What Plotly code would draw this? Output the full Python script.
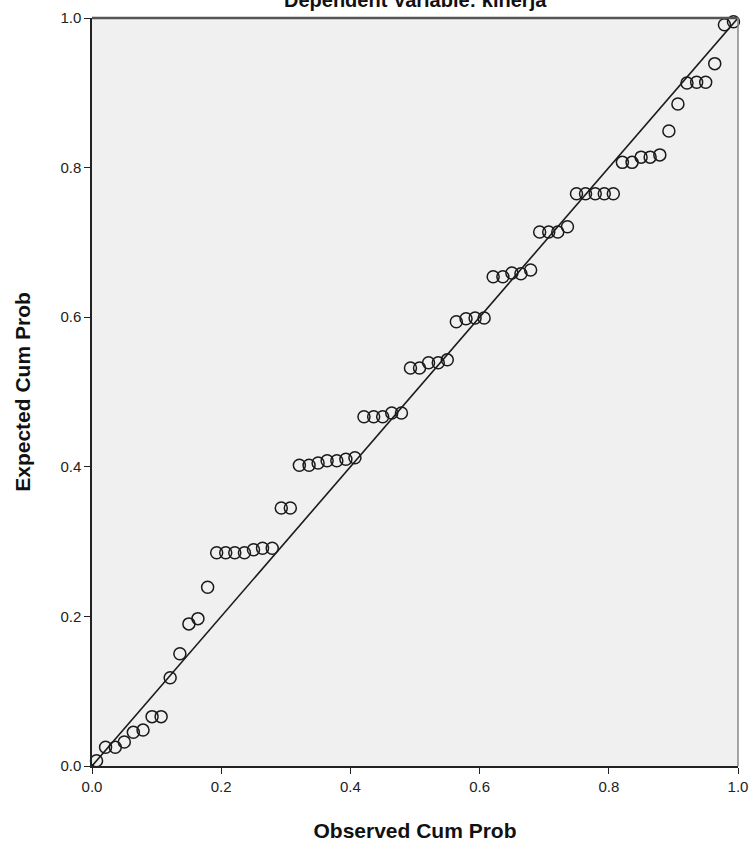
import plotly.graph_objects as go

title_text = "Dependent Variable: kinerja"
x_title = "Observed Cum Prob"
y_title = "Expected Cum Prob"
tick_vals = [0.0, 0.2, 0.4, 0.6, 0.8, 1.0]
tick_text = ["0.0", "0.2", "0.4", "0.6", "0.8", "1.0"]

observed = [0.007, 0.021, 0.036, 0.050, 0.064, 0.079, 0.093, 0.107, 0.121, 0.136,
            0.150, 0.164, 0.179, 0.193, 0.207, 0.221, 0.236, 0.250, 0.264, 0.279,
            0.293, 0.307, 0.321, 0.336, 0.350, 0.364, 0.379, 0.393, 0.407, 0.421,
            0.436, 0.450, 0.464, 0.479, 0.493, 0.507, 0.521, 0.536, 0.550, 0.564,
            0.579, 0.593, 0.607, 0.621, 0.636, 0.650, 0.664, 0.679, 0.693, 0.707,
            0.721, 0.736, 0.750, 0.764, 0.779, 0.793, 0.807, 0.821, 0.836, 0.850,
            0.864, 0.879, 0.893, 0.907, 0.921, 0.936, 0.950, 0.964, 0.979, 0.993]
expected = [0.007, 0.025, 0.025, 0.032, 0.045, 0.048, 0.066, 0.066, 0.118, 0.150,
            0.190, 0.197, 0.239, 0.285, 0.285, 0.285, 0.285, 0.289, 0.291, 0.291,
            0.345, 0.345, 0.402, 0.402, 0.405, 0.408, 0.408, 0.410, 0.412, 0.467,
            0.467, 0.467, 0.472, 0.472, 0.532, 0.532, 0.539, 0.539, 0.543, 0.594,
            0.598, 0.599, 0.599, 0.654, 0.654, 0.659, 0.658, 0.663, 0.714, 0.714,
            0.714, 0.721, 0.765, 0.765, 0.765, 0.765, 0.765, 0.807, 0.807, 0.814,
            0.814, 0.817, 0.849, 0.885, 0.913, 0.914, 0.914, 0.939, 0.991, 0.995]
ref_line = [0.0, 1.0]

font_family = "Liberation Sans, Arial, sans-serif"

fig = go.Figure()
fig.add_trace(go.Scatter(x=ref_line, y=ref_line, mode="lines",
                         line=dict(color="#1a1a1a", width=1.6),
                         hoverinfo="skip", showlegend=False))
fig.add_trace(go.Scatter(x=observed, y=expected, mode="markers",
                         marker=dict(symbol="circle-open", size=12,
                                     color="#1a1a1a", line=dict(width=1.5)),
                         cliponaxis=False, showlegend=False))

axis_common = dict(range=[0, 1], tickvals=tick_vals, ticktext=tick_text,
                   ticks="outside", ticklen=6, tickwidth=1, tickcolor="#222",
                   showgrid=False, zeroline=False, showline=True,
                   linecolor="#222", linewidth=1.5, automargin=False,
                   tickfont=dict(family=font_family, size=15, color="#222"))

fig.update_xaxes(**axis_common,
                 title=dict(text="<b>" + x_title + "</b>", standoff=30,
                            font=dict(family=font_family, size=21, color="#111")))
fig.update_yaxes(**axis_common,
                 title=dict(text="<b>" + y_title + "</b>", standoff=24,
                            font=dict(family=font_family, size=21, color="#111")))

fig.add_shape(type="line", xref="paper", yref="paper", x0=0, x1=1, y0=1, y1=1,
              line=dict(color="#555", width=2.5))
fig.add_shape(type="line", xref="paper", yref="paper", x0=1, x1=1, y0=0, y1=1,
              line=dict(color="#888", width=1.5))

fig.add_annotation(text="<b>" + title_text + "</b>", xref="paper", yref="paper",
                   x=0.5, y=1 + 5 / 748, xanchor="center", yanchor="bottom",
                   showarrow=False,
                   font=dict(family=font_family, size=20, color="#111"))

fig.update_layout(width=756, height=855,
                  margin=dict(l=92, r=18, t=18, b=89),
                  paper_bgcolor="white", plot_bgcolor="#f0f0f0")

fig.write_html("out.html", config={"displayModeBar": False},
               post_script="document.body.style.margin='0';document.body.style.overflow='hidden';")
